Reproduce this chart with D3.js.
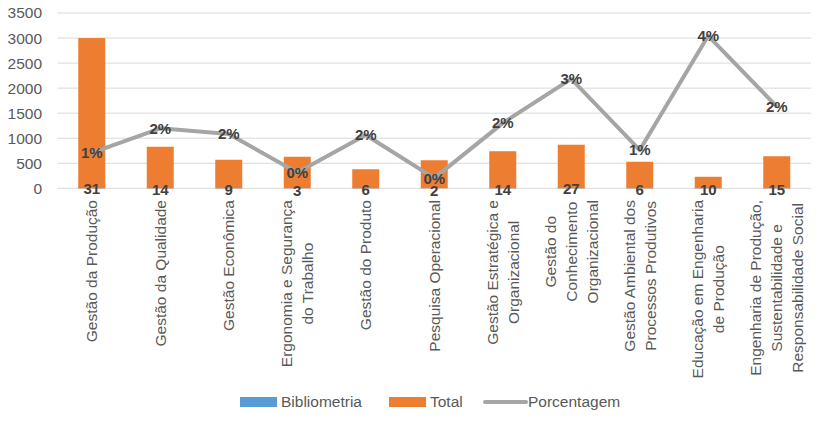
<!DOCTYPE html>
<html>
<head>
<meta charset="utf-8">
<script src="https://cdn.jsdelivr.net/npm/d3@7"></script>
<style>
  body { margin: 0; background: #fff; }
  svg { display: block; font-family: "Liberation Sans", Arial, sans-serif; }
</style>
</head>
<body>
<svg id="chart" width="836" height="424"></svg>
<script>
// --- data ---
const categories = [
  ["Gestão da Produção"],
  ["Gestão da Qualidade"],
  ["Gestão Econômica"],
  ["Ergonomia e Segurança", "do Trabalho"],
  ["Gestão do Produto"],
  ["Pesquisa Operacional"],
  ["Gestão Estratégica e", "Organizacional"],
  ["Gestão do", "Conhecimento", "Organizacional"],
  ["Gestão Ambiental dos", "Processos Produtivos"],
  ["Educação em Engenharia", "de Produção"],
  ["Engenharia de Produção,", "Sustentabilidade e", "Responsabilidade Social"]
];
const bibliometria = [31, 14, 9, 3, 6, 2, 14, 27, 6, 10, 15];
const total = [3000, 830, 570, 630, 380, 560, 740, 870, 530, 230, 640];
const porcentagem = [0.0101, 0.0171, 0.0155, 0.0045, 0.0152, 0.0029, 0.0186, 0.0312, 0.0109, 0.0435, 0.0233];
const yTicks = [0, 500, 1000, 1500, 2000, 2500, 3000, 3500];
const legendItems = ["Bibliometria", "Total", "Porcentagem"];

const colors = { bib: "#5b9bd5", total: "#ed7d31", pct: "#a5a5a5" };

const svg = d3.select("#chart");
const margin = { left: 57.5, right: 811, top: 13, bottom: 188.3 };

const y = d3.scaleLinear().domain([0, 3500]).range([margin.bottom, margin.top]);
// hidden secondary axis for the percentage line
const y2 = d3.scaleLinear().domain([0, 0.05]).range([margin.bottom, margin.top]);

const step = (margin.right - margin.left) / categories.length;
const cx = i => margin.left + step * (i + 0.5);

// gridlines
svg.append("g")
  .selectAll("line")
  .data(yTicks)
  .join("line")
  .attr("x1", margin.left)
  .attr("x2", margin.right)
  .attr("y1", d => y(d))
  .attr("y2", d => y(d))
  .attr("stroke", "#d9d9d9")
  .attr("stroke-width", 1);

// y axis labels
const yAxis = svg.append("g")
  .attr("transform", "translate(42,0)")
  .call(d3.axisLeft(y).tickValues(yTicks).tickFormat(d3.format("d")).tickSize(0).tickPadding(0));
yAxis.select(".domain").remove();
yAxis.selectAll("text")
  .attr("fill", "#595959")
  .style("font-size", "15.5px")
  .style("font-family", "Liberation Sans, Arial, sans-serif");

const bw = 27;

// bars (Bibliometria under Total, full overlap)
svg.append("g")
  .selectAll("rect")
  .data(bibliometria)
  .join("rect")
  .attr("x", (d, i) => cx(i) - bw / 2)
  .attr("width", bw)
  .attr("y", d => y(d))
  .attr("height", d => y(0) - y(d))
  .attr("fill", colors.bib);

svg.append("g")
  .selectAll("rect")
  .data(total)
  .join("rect")
  .attr("x", (d, i) => cx(i) - bw / 2)
  .attr("width", bw)
  .attr("y", d => y(d))
  .attr("height", d => y(0) - y(d))
  .attr("fill", colors.total);

// percentage line
const line = d3.line()
  .x((d, i) => cx(i))
  .y(d => y2(d));

svg.append("path")
  .datum(porcentagem)
  .attr("d", line)
  .attr("fill", "none")
  .attr("stroke", colors.pct)
  .attr("stroke-width", 4)
  .attr("stroke-linejoin", "round");

// data labels
svg.append("g")
  .selectAll("text")
  .data(bibliometria)
  .join("text")
  .attr("x", (d, i) => cx(i))
  .attr("y", d => y(d) + 7.5)
  .attr("text-anchor", "middle")
  .attr("font-size", "15px")
  .attr("font-weight", "bold")
  .attr("fill", "#404040")
  .text(d => d);

svg.append("g")
  .selectAll("text")
  .data(porcentagem)
  .join("text")
  .attr("x", (d, i) => cx(i))
  .attr("y", d => y2(d))
  .attr("dy", "0.36em")
  .attr("text-anchor", "middle")
  .attr("font-size", "15px")
  .attr("font-weight", "bold")
  .attr("fill", "#404040")
  .text(d => d3.format(".0%")(d));

// category labels, rotated, lines centred, block top-aligned under axis
const labelTop = 200;
const lineGap = 21;
categories.forEach((lines, i) => {
  const g = svg.append("g").attr("transform", `translate(${cx(i)},0) rotate(-90)`);
  const texts = g.selectAll("text")
    .data(lines)
    .join("text")
    .attr("y", (d, j) => (j - (lines.length - 1) / 2) * lineGap)
    .attr("dy", "0.35em")
    .attr("text-anchor", "middle")
    .attr("font-size", "15.5px")
    .attr("fill", "#595959")
    .text(d => d);
  let maxLen = 0;
  texts.each(function () { maxLen = Math.max(maxLen, this.getComputedTextLength()); });
  texts.attr("x", -(labelTop + maxLen / 2));
});

// legend
const legend = svg.append("g").attr("transform", "translate(0,402)");
const legendX = [240, 389, 485];
legendItems.forEach((name, i) => {
  const g = legend.append("g").attr("transform", `translate(${legendX[i]},0)`);
  if (i < 2) {
    g.append("rect")
      .attr("x", 0).attr("y", -5)
      .attr("width", 37).attr("height", 10)
      .attr("fill", i === 0 ? colors.bib : colors.total);
  } else {
    g.append("line")
      .attr("x1", 0).attr("x2", 41)
      .attr("stroke", colors.pct)
      .attr("stroke-width", 4)
      .attr("stroke-linecap", "round");
  }
  g.append("text")
    .attr("x", i < 2 ? 41 : 43)
    .attr("dy", "0.35em")
    .attr("font-size", "15.5px")
    .attr("fill", "#595959")
    .text(name);
});
</script>
</body>
</html>
